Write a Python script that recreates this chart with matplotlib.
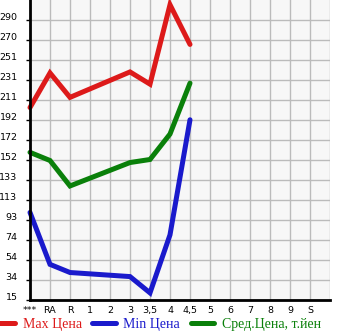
import matplotlib
matplotlib.use("Agg")
import matplotlib.pyplot as plt
import numpy as np

# categories on the x axis
labels_x = ["***", "RA", "R", "1", "2", "3", "3,5", "4", "4,5",
            "5", "6", "7", "8", "9", "S"]
labels_y = ["15", "34", "54", "74", "93", "113", "133", "152", "172",
            "192", "211", "231", "251", "270", "290"]

# points where there is a price (index in labels_x)
pos = [0, 1, 2, 5, 6, 7, 8]
max_price = [204, 238, 214, 239, 227, 305, 266]
min_price = [101, 50, 42, 38, 22, 79, 192]
avg_price = [160, 152, 127, 150, 153, 178, 228]

y_step = (290 - 15) / 14

fig = plt.figure(figsize=(3.45, 3.35), dpi=100)
ax = fig.add_axes([30 / 345, 35 / 335, 300 / 345, 300 / 335])
ax.set_facecolor("#f7f7f7")

yticks = [15 + y_step * k for k in range(15)]
ax.set_xlim(0, 15)
ax.set_ylim(15, 15 + y_step * 15)

ax.set_xticks(range(16))
ax.set_xticklabels(labels_x + [""], fontsize=6.8, family="DejaVu Sans")
ax.set_yticks(yticks)
ax.set_yticklabels(labels_y, fontsize=6.8, family="DejaVu Sans", va="baseline")
ax.tick_params(axis="x", length=0, pad=4.5)
ax.tick_params(axis="y", length=3, width=1, pad=6)
ax.grid(True, color="#bbbbbb", linewidth=1)
ax.set_axisbelow(True)

for s in ["top", "right"]:
    ax.spines[s].set_visible(False)
for s in ["left", "bottom"]:
    ax.spines[s].set_linewidth(2)
    ax.spines[s].set_color("black")

lw = 3.6
l1, = ax.plot(pos, max_price, color="#dd1a1a", lw=lw, solid_capstyle="round",
              solid_joinstyle="miter", clip_on=False)
l2, = ax.plot(pos, min_price, color="#1a1acc", lw=lw, solid_capstyle="round",
              solid_joinstyle="miter", clip_on=False)
l3, = ax.plot(pos, avg_price, color="#0a800a", lw=lw, solid_capstyle="round",
              solid_joinstyle="miter", clip_on=False)

leg = fig.legend([l1, l2, l3], ["Max Цена", "Min Цена", "Сред.Цена, т.йен"],
                 loc="lower left", bbox_to_anchor=(-0.025, 0.012), ncol=3,
                 frameon=False, prop={"family": "Liberation Serif", "size": 10},
                 handlelength=1.7, handletextpad=0.55, columnspacing=0.75,
                 borderaxespad=0.0, borderpad=0.0)
for t, c in zip(leg.get_texts(), ["#dd1a1a", "#1a1acc", "#0a800a"]):
    t.set_color(c)

fig.savefig("out.png", dpi=100)
